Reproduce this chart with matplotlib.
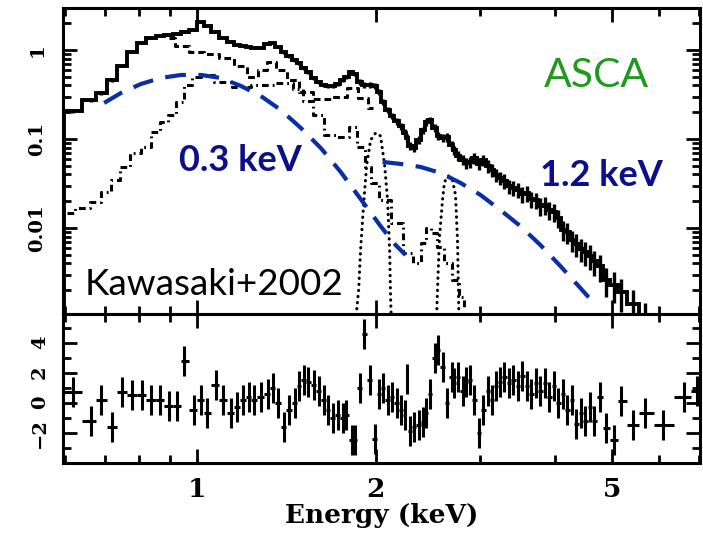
import numpy as np
import matplotlib.pyplot as plt
from matplotlib.ticker import FixedLocator, NullFormatter, LogLocator

# ASCA spectrum: bin centres (keV), counts/s/keV and relative errors
energy = [
    0.619, 0.664, 0.690, 0.720, 0.748, 0.778, 0.808, 0.837, 0.867, 0.897,
    0.926, 0.951, 0.988, 1.016, 1.039, 1.076, 1.106, 1.141, 1.168, 1.195,
    1.223, 1.247, 1.281, 1.316, 1.342, 1.368, 1.400, 1.428, 1.461, 1.484,
    1.513, 1.537, 1.573, 1.603, 1.635, 1.661, 1.693, 1.726, 1.760, 1.780,
    1.822, 1.843, 1.879, 1.909, 1.953, 1.991, 2.022, 2.054, 2.094, 2.127,
    2.168, 2.203, 2.237, 2.254, 2.280, 2.316, 2.361, 2.398, 2.435, 2.473,
    2.512, 2.551, 2.591, 2.632, 2.683, 2.714, 2.756, 2.800, 2.843, 2.888,
    2.933, 2.990, 3.037, 3.096, 3.144, 3.193, 3.243, 3.293, 3.358, 3.410,
    3.477, 3.531, 3.601, 3.656, 3.728, 3.786, 3.860, 3.920, 3.997, 4.059,
    4.138, 4.203, 4.284, 4.351, 4.436, 4.506, 4.594, 4.666, 4.775, 4.887,
    5.041, 5.181, 5.427, 5.684, 6.095, 6.609, 6.950,
]
flux = [
    0.205, 0.274, 0.329, 0.460, 0.661, 0.950, 1.20, 1.36, 1.44, 1.47,
    1.51, 1.59, 1.68, 2.06, 1.86, 1.59, 1.36, 1.23, 1.14, 1.11,
    1.08, 1.05, 1.05, 1.17, 1.20, 1.08, 0.95, 0.856, 0.772, 0.714,
    0.628, 0.566, 0.485, 0.437, 0.404, 0.394, 0.394, 0.415, 0.460, 0.497,
    0.566, 0.538, 0.437, 0.404, 0.404, 0.394, 0.337, 0.260, 0.212, 0.181,
    0.159, 0.140, 0.117, 0.103, 0.0834, 0.0792, 0.0975, 0.126, 0.155, 0.164,
    0.133, 0.108, 0.103, 0.105, 0.0857, 0.0752, 0.0644, 0.0581, 0.0537, 0.0551,
    0.0612, 0.0524, 0.0581, 0.0497, 0.0449, 0.0394, 0.0365, 0.0338, 0.0296, 0.0281,
    0.0267, 0.0241, 0.0247, 0.0212, 0.0206, 0.0177, 0.0181, 0.0159, 0.0151, 0.0130,
    0.0095, 0.0090, 0.0073, 0.0066, 0.0058, 0.0054, 0.0049, 0.0042, 0.0037, 0.0026,
    0.0023, 0.0019, 0.0014, 0.0010, 0.0006, 0.0005, 0.0004,
]
flux_rel_err = [
    0.05, 0.04, 0.04, 0.04, 0.03, 0.03, 0.03, 0.03, 0.03, 0.03,
    0.03, 0.03, 0.03, 0.03, 0.03, 0.03, 0.03, 0.03, 0.03, 0.03,
    0.03, 0.03, 0.03, 0.03, 0.03, 0.03, 0.04, 0.04, 0.04, 0.04,
    0.05, 0.05, 0.05, 0.05, 0.06, 0.06, 0.06, 0.06, 0.06, 0.06,
    0.06, 0.06, 0.07, 0.07, 0.07, 0.07, 0.07, 0.08, 0.08, 0.08,
    0.09, 0.09, 0.10, 0.10, 0.11, 0.11, 0.10, 0.09, 0.09, 0.09,
    0.10, 0.10, 0.11, 0.11, 0.12, 0.12, 0.13, 0.13, 0.14, 0.14,
    0.14, 0.15, 0.15, 0.16, 0.16, 0.17, 0.17, 0.18, 0.18, 0.19,
    0.19, 0.20, 0.20, 0.21, 0.21, 0.22, 0.22, 0.23, 0.23, 0.24,
    0.25, 0.26, 0.27, 0.28, 0.29, 0.30, 0.31, 0.32, 0.33, 0.35,
    0.38, 0.40, 0.42, 0.45, 0.50, 0.50, 0.50,
]
# residuals in units of sigma, one per bin
resid = [
    0.7, -1.2, 0.2, -1.6, 0.7, 0.5, 0.5, 0.2, 0.2, -0.2,
    -0.2, 2.8, -0.5, 0.2, -0.7, 1.2, 0.2, -0.7, -0.3, 0.2,
    0.4, 0.2, 0.4, 0.6, 1.0, 0.0, -1.6, -0.5, 0.0, 1.1,
    1.5, 1.4, 1.2, 0.8, 0.2, -0.5, -1.0, -0.8, -1.0, -0.8,
    -2.5, -2.5, 1.0, 4.6, 1.5, -2.4, 0.6, 1.0, 0.2, 0.4,
    0.0, -0.5, -0.8, 1.6, -1.9, -1.6, -1.5, -1.3, -0.7, 0.6,
    3.0, 3.5, 2.4, 0.0, 1.7, 1.3, 1.7, 0.8, 1.4, 1.5,
    0.2, -2.0, -0.5, 0.8, 0.2, 1.1, 1.4, 1.7, 1.3, 1.5,
    1.1, 1.8, 1.1, 0.6, 1.3, 0.8, 1.3, 0.4, 1.1, 0.0,
    0.6, -0.5, 0.2, -1.4, -0.7, -1.2, -0.3, -1.2, 0.4, -1.7,
    -2.5, 0.1, -1.5, -0.7, -1.5, 0.4, 0.8,
]

# model components (keV, counts/s/keV)
comp_a_e = [0.897, 0.940, 0.996, 1.056, 1.119, 1.186, 1.247, 1.291, 1.331,
            1.384, 1.450, 1.525, 1.616, 1.746, 1.829, 1.901, 1.976]
comp_a_f = [1.364, 1.109, 0.950, 0.902, 0.813, 0.661, 0.497, 0.596, 0.733,
            0.596, 0.460, 0.337, 0.281, 0.296, 0.374, 0.289, 0.223]
comp_b_e = [0.605, 0.643, 0.677, 0.703, 0.731, 0.751, 0.790, 0.821, 0.853, 0.877,
            0.911, 0.933, 0.970, 0.996, 1.035, 1.106, 1.186, 1.281, 1.422, 1.478,
            1.537, 1.597, 1.680, 1.766, 1.836, 1.886, 1.946, 1.984, 2.062, 2.177,
            2.262, 2.352, 2.407, 2.454, 2.502, 2.571, 2.642, 2.725, 2.800, 2.833]
comp_b_f = [0.0147, 0.0168, 0.0196, 0.0254, 0.0346, 0.0485, 0.0696, 0.0813, 0.120, 0.155,
            0.186, 0.260, 0.404, 0.497, 0.524, 0.437, 0.384, 0.400, 0.420, 0.360,
            0.270, 0.186, 0.111, 0.105, 0.136, 0.0813, 0.0485, 0.0321, 0.0206, 0.0114,
            0.00524, 0.00404, 0.00678, 0.0100, 0.00879, 0.00612, 0.00404, 0.00261, 0.00168, 0.00126]
si_line_e = [1.850, 1.872, 1.886, 1.909, 1.931, 1.961, 2.000, 2.038, 2.070, 2.094, 2.111, 2.119, 2.125]
si_line_f = [0.0009, 0.00201, 0.00566, 0.0191, 0.0510, 0.0975, 0.117, 0.108, 0.0510, 0.0206,
             0.00566, 0.00155, 0.0009]
s_line_e = [2.531, 2.541, 2.561, 2.591, 2.611, 2.652, 2.693, 2.725, 2.746, 2.756, 2.762]
s_line_f = [0.0009, 0.00201, 0.00792, 0.0206, 0.0329, 0.0384, 0.0346, 0.0235, 0.00733, 0.00201, 0.0009]

# two-temperature continuum sketches
soft_e = [0.698, 0.745, 0.805, 0.870, 0.940, 1.016, 1.097, 1.186, 1.281, 1.384,
          1.496, 1.616, 1.746, 1.886, 2.038, 2.160, 2.245]
soft_f = [0.254, 0.329, 0.415, 0.485, 0.524, 0.524, 0.485, 0.394, 0.304, 0.212,
          0.133, 0.0792, 0.0426, 0.0212, 0.0105, 0.00644, 0.00497]
hard_e = [2.054, 2.203, 2.379, 2.571, 2.778, 3.002, 3.243, 3.504, 3.786, 4.091, 4.420, 4.594]
hard_f = [0.0552, 0.0524, 0.0485, 0.0415, 0.0321, 0.0235, 0.0159, 0.0105, 0.00644,
          0.00374, 0.00212, 0.00159]


def bin_edges(centers):
    c = np.log10(centers)
    mid = (c[1:] + c[:-1]) / 2
    return 10 ** np.concatenate([[2 * c[0] - mid[0]], mid, [2 * c[-1] - mid[-1]]])


def style_axis(ax):
    for s in ax.spines.values():
        s.set_linewidth(2.2)
    ax.set_xscale("log")
    ax.set_xlim(0.595, 7.03)
    ax.xaxis.set_major_locator(FixedLocator([1, 2, 5]))
    ax.xaxis.set_minor_locator(FixedLocator([0.6, 0.7, 0.8, 0.9, 3, 4, 6, 7]))
    ax.xaxis.set_minor_formatter(NullFormatter())
    ax.tick_params(which="both", direction="in", top=True, right=True, width=2.0)
    ax.tick_params(which="major", length=10)
    ax.tick_params(which="minor", length=6)


e = np.array(energy)
f = np.array(flux)
edges = bin_edges(e)

fig = plt.figure(figsize=(7.03, 5.35), dpi=100)
tick_font = dict(family="DejaVu Serif", weight="bold")

# spectrum panel
ax = fig.add_axes([0.0896, 0.4131, 0.9061, 0.5719])
style_axis(ax)
ax.set_yscale("log")
ax.set_ylim(1.08e-3, 2.96)
ax.yaxis.set_major_locator(FixedLocator([0.01, 0.1, 1]))
ax.yaxis.set_minor_locator(LogLocator(base=10, subs=np.arange(2, 10)))
ax.yaxis.set_minor_formatter(NullFormatter())
ax.set_yticklabels(["0.01", "0.1", "1"], rotation=90, va="center", fontsize=14, **tick_font)
ax.tick_params(axis="x", labelbottom=False)
ax.tick_params(axis="y", pad=12)

ax.stairs(f, edges, color="black", lw=2.8)
ax.errorbar(e, f, yerr=f * np.array(flux_rel_err), fmt="none", ecolor="black", elinewidth=2.4)
ax.plot(comp_a_e, comp_a_f, color="black", lw=2.2, ls=(0, (2.2, 1.3)), drawstyle="steps-mid")
ax.plot(comp_b_e, comp_b_f, color="black", lw=2.2, ls=(0, (2.2, 1.3, 0.6, 1.3)), drawstyle="steps-mid")
for le, lf in ((si_line_e, si_line_f), (s_line_e, s_line_f)):
    ax.plot(le, lf, color="black", lw=2.2, ls=(0, (0.1, 1.9)), dash_capstyle="round")

ax.plot(soft_e, soft_f, color="#0a2ea3", lw=3.0, ls=(0, (5, 3)))
ax.plot(hard_e, hard_f, color="#0a2ea3", lw=3.0, ls=(0, (5, 3)))

ax.text(0.837, 0.781, "ASCA", transform=ax.transAxes, ha="center", va="center",
        fontsize=29.5, color="#1f9a1f", family="Lato")
ax.text(0.279, 0.503, "0.3 keV", transform=ax.transAxes, ha="center", va="center",
        fontsize=26, color="#0b0f8a", family="Lato", weight="bold")
ax.text(0.845, 0.454, "1.2 keV", transform=ax.transAxes, ha="center", va="center",
        fontsize=26, color="#0b0f8a", family="Lato", weight="bold")
ax.text(0.237, 0.095, "Kawasaki+2002", transform=ax.transAxes, ha="center", va="center",
        fontsize=26.5, color="black", family="Lato")

# residual panel
rx = fig.add_axes([0.0896, 0.1346, 0.9061, 0.2785], sharex=ax)
style_axis(rx)
rx.set_ylim(-4.02, 5.91)
rx.yaxis.set_major_locator(FixedLocator([-2, 0, 2, 4]))
rx.yaxis.set_minor_locator(FixedLocator([-3, -1, 1, 3, 5]))
rx.set_yticklabels(["\u22122", "0", "2", "4"], rotation=90, va="center", fontsize=14, **tick_font)
rx.tick_params(axis="y", pad=10)
rx.set_xticklabels(["1", "2", "5"], fontsize=19, **tick_font)
rx.tick_params(axis="x", pad=10)

rx.errorbar(e, resid, xerr=[e - edges[:-1], edges[1:] - e], yerr=1.0,
            fmt="none", ecolor="black", elinewidth=2.2)
rx.set_xlabel("Energy (keV)", fontsize=19, labelpad=1, **tick_font)

fig.savefig("out.png", dpi=100)
